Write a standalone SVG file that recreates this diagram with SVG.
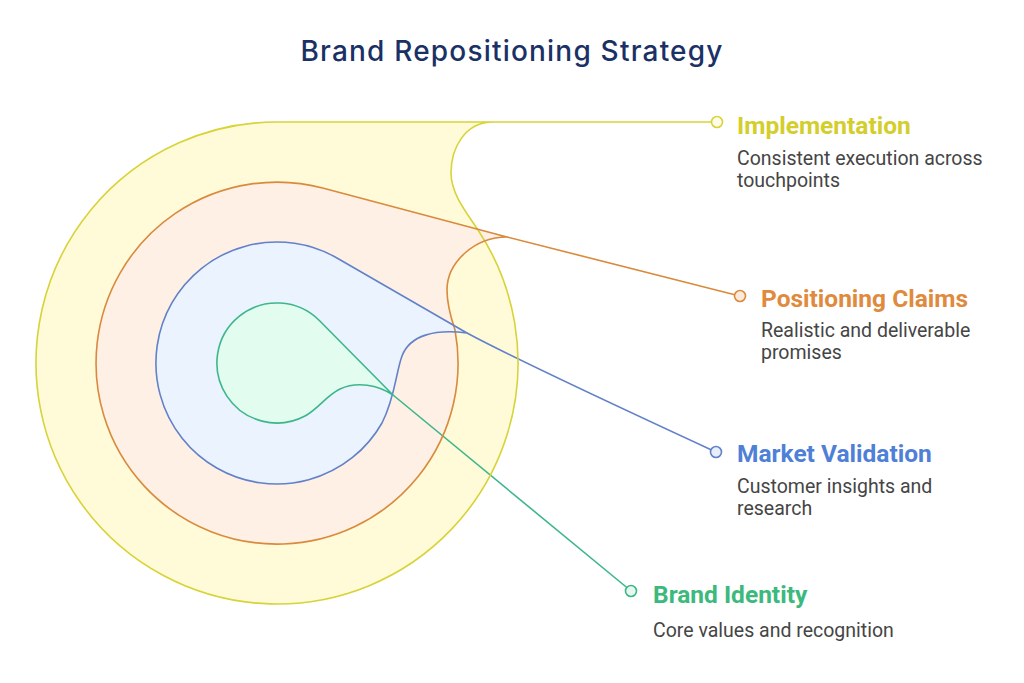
<svg xmlns="http://www.w3.org/2000/svg" xmlns:xlink="http://www.w3.org/1999/xlink" width="1024" height="683" viewBox="0 0 1024 683">
  <style>
    .title { font-family: Inter, "Open Sans", "Liberation Sans", sans-serif; font-weight: 500; font-size: 28px; letter-spacing: 1.2px; fill: #1b3166; }
    .head { font-family: Roboto, "Liberation Sans", sans-serif; font-weight: 700; font-size: 24.5px; }
    .desc { font-family: Roboto, "Liberation Sans", sans-serif; font-weight: 400; font-size: 19.5px; fill: #454545; }
    .outline { fill: none; stroke-width: 1.6; stroke-linejoin: round; }
    .conn { fill: none; stroke-width: 1.6; }
    .dot { stroke-width: 1.6; }
    .y { stroke: #d7d338; } .o { stroke: #d98a3c; } .b { stroke: #6281c8; } .g { stroke: #3db68a; }
  </style>
  <defs>
    <path id="shape-yellow" d="M 493 122 C 465 122 451 148 451 173 C 451 194 467 213 478 230 A 241 241 0 1 1 277 122 Z"/>
    <path id="shape-orange" d="M 507 237 C 475 237 447 262 447 290 C 447 302 450 315 455 330 A 181 181 0 1 1 323.6 188.2 L 507 237 Z"/>
    <path id="shape-blue" d="M 467 333 C 435 329 410 335 402 356 C 396 372 395 398 382 423 A 121 121 0 1 1 337.4 258.2 L 467 333 Z"/>
    <path id="shape-green" d="M 393 395 C 378 385 357 381 340 389 C 327 395 318 409 305 416 A 60 60 0 1 1 319.6 320.8 L 393 395 Z"/>
  </defs>

  <text class="title" x="512" y="61" text-anchor="middle">Brand Repositioning Strategy</text>

  <g id="fills">
    <use href="#shape-yellow" fill="#fffbd8"/>
    <use href="#shape-orange" fill="#fef0e5"/>
    <use href="#shape-blue" fill="#eaf3fe"/>
    <use href="#shape-green" fill="#e2fcf0"/>
  </g>

  <g id="connectors">
    <path class="conn y" d="M 493 122 H 711.5"/>
    <path class="conn o" d="M 507 237 L 734.7 294.7"/>
    <path class="conn b" d="M 467 333 Q 517 360 711 449.7"/>
    <path class="conn g" d="M 393 395 L 626.8 587.5"/>
  </g>

  <g id="node-implementation">
    <use href="#shape-yellow" class="outline y"/>
    <circle class="dot y" cx="717" cy="122" r="5.5" fill="#fffde9"/>
    <text class="head" x="737" y="134" fill="#d3ce2c">Implementation</text>
    <text class="desc" x="737" y="165">Consistent execution across</text>
    <text class="desc" x="737" y="187">touchpoints</text>
  </g>

  <g id="node-positioning">
    <use href="#shape-orange" class="outline o"/>
    <circle class="dot o" cx="740" cy="296" r="5.5" fill="#fde9dc"/>
    <text class="head" x="761" y="307" fill="#e08a3d">Positioning Claims</text>
    <text class="desc" x="761" y="337">Realistic and deliverable</text>
    <text class="desc" x="761" y="359">promises</text>
  </g>

  <g id="node-market">
    <use href="#shape-blue" class="outline b"/>
    <circle class="dot b" cx="716" cy="452" r="5.5" fill="#e8eefa"/>
    <text class="head" x="737" y="462" fill="#4f80d8">Market Validation</text>
    <text class="desc" x="737" y="493">Customer insights and</text>
    <text class="desc" x="737" y="515">research</text>
  </g>

  <g id="node-identity">
    <use href="#shape-green" class="outline g"/>
    <circle class="dot g" cx="631" cy="591" r="5.5" fill="#e6f8ef"/>
    <text class="head" x="653" y="603" fill="#3cb97c">Brand Identity</text>
    <text class="desc" x="653" y="637">Core values and recognition</text>
  </g>
</svg>
